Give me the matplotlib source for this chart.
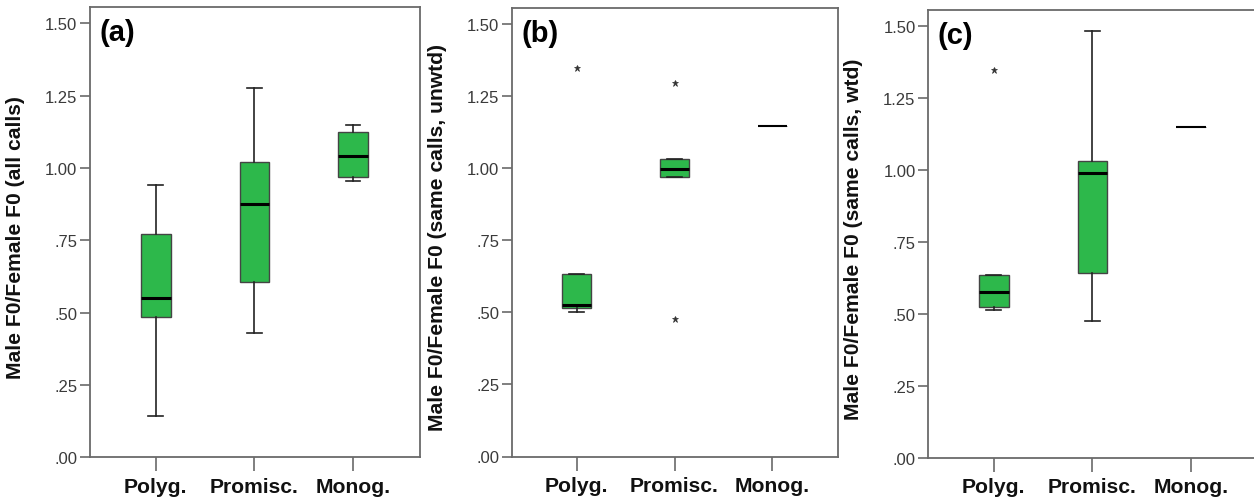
import matplotlib.pyplot as plt

plt.rcParams['font.family'] = ['Liberation Sans', 'DejaVu Sans']

# ---------------------------------------------------------
# Data
# ---------------------------------------------------------
groups = ['Polyg.', 'Promisc.', 'Monog.']

# panel (a): all calls
a_whislo = [0.142, 0.430, 0.956]
a_q1 = [0.485, 0.606, 0.970]
a_med = [0.552, 0.876, 1.043]
a_q3 = [0.772, 1.020, 1.126]
a_whishi = [0.942, 1.278, 1.150]
a_fliers = [[], [], []]

# panel (b): same calls, unweighted
b_whislo = [0.500, 0.970, 1.149]
b_q1 = [0.514, 0.970, 1.149]
b_med = [0.526, 0.998, 1.149]
b_q3 = [0.634, 1.032, 1.149]
b_whishi = [0.634, 1.032, 1.149]
b_fliers = [[1.347], [1.298, 0.476], []]

# panel (c): same calls, weighted
c_whislo = [0.514, 0.476, 1.150]
c_q1 = [0.523, 0.642, 1.150]
c_med = [0.578, 0.990, 1.150]
c_q3 = [0.635, 1.032, 1.150]
c_whishi = [0.635, 1.483, 1.150]
c_fliers = [[1.347], [], []]

ylabels = ['Male F0/Female F0 (all calls)',
           'Male F0/Female F0 (same calls, unwtd)',
           'Male F0/Female F0 (same calls, wtd)']
panel_tags = ['(a)', '(b)', '(c)']
yticks = [0.0, 0.25, 0.5, 0.75, 1.0, 1.25, 1.5]
ytick_labels = ['.00', '.25', '.50', '.75', '1.00', '1.25', '1.50']

W, H = 1254, 502
# pixel boxes for each panel: left, right, top, bottom
boxes = [(90, 420, 8, 458.3), (512, 838, 9, 457.5), (928, 1256, 10.5, 459)]
xlims = [(0.333, 3.68), (0.34, 3.67), (0.333, 3.66)]

green = '#2db84b'
frame = '#6a6a6a'


def make_stats(whislo, q1, med, q3, whishi, fliers):
    stats = []
    for i in range(len(groups)):
        stats.append({'whislo': whislo[i], 'q1': q1[i], 'med': med[i],
                      'q3': q3[i], 'whishi': whishi[i], 'fliers': fliers[i]})
    return stats


panels = [
    make_stats(a_whislo, a_q1, a_med, a_q3, a_whishi, a_fliers),
    make_stats(b_whislo, b_q1, b_med, b_q3, b_whishi, b_fliers),
    make_stats(c_whislo, c_q1, c_med, c_q3, c_whishi, c_fliers),
]

fig = plt.figure(figsize=(W / 100, H / 100), dpi=100)

for k, stats in enumerate(panels):
    l, r, t, b = boxes[k]
    ax = fig.add_axes([l / W, (H - b) / H, (r - l) / W, (b - t) / H])

    parts = ax.bxp(stats, positions=[1, 2, 3], widths=0.3, patch_artist=True,
                   showfliers=True,
                   boxprops=dict(facecolor=green, edgecolor='#444444', linewidth=1.0),
                   medianprops=dict(color='black', linewidth=2.2),
                   whiskerprops=dict(color='#222222', linewidth=1.2),
                   capprops=dict(color='#222222', linewidth=1.2),
                   capwidths=0.15,
                   flierprops=dict(marker='*', markersize=5, markerfacecolor='#333333',
                                   markeredgecolor='#333333', markeredgewidth=0.5,
                                   linestyle='none'))

    # a box with no spread is only a thin line in the reference
    for i, s in enumerate(stats):
        if s['q1'] == s['q3']:
            parts['medians'][i].set_linewidth(1.5)
            parts['boxes'][i].set_linewidth(0.5)

    ax.set_xlim(*xlims[k])
    ax.set_ylim(0, 1.557)
    ax.set_yticks(yticks)
    ax.set_yticklabels(ytick_labels, fontsize=12, color='#3a3a3a')
    ax.set_xticks([1, 2, 3])
    ax.set_xticklabels(groups, fontsize=15.2, fontweight='bold', color='#111111')

    ax.tick_params(axis='y', length=7, width=1.2, color=frame, pad=2)
    ax.tick_params(axis='x', length=10, width=1.2, color=frame, pad=4)
    for sp in ax.spines.values():
        sp.set_color(frame)
        sp.set_linewidth(1.3)

    ax.set_ylabel(ylabels[k], fontsize=15.2, fontweight='bold', color='#111111')
    ax.yaxis.set_label_coords(-65 / (r - l), 0.49)

    ax.text(0.03, 0.975, panel_tags[k], transform=ax.transAxes, ha='left', va='top',
            fontsize=21, fontweight='bold', color='black')

fig.savefig('out.png', dpi=100)
